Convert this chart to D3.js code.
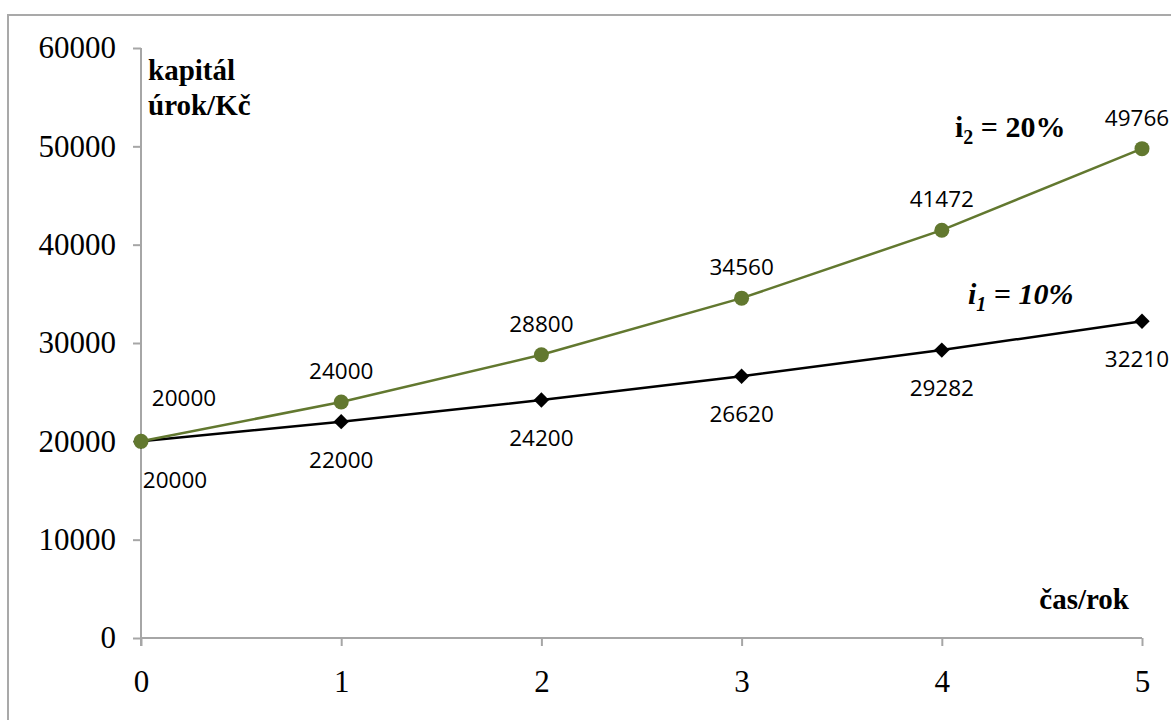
<!DOCTYPE html>
<html>
<head>
<meta charset="utf-8">
<script src="https://cdn.jsdelivr.net/npm/d3@7"></script>
<style>
  html, body { margin: 0; padding: 0; background: #fff; }
  svg { display: block; }
</style>
</head>
<body>
<svg id="chart" width="1171" height="720"></svg>
<script>
// Years and capital growth at two compound interest rates
const years = [0, 1, 2, 3, 4, 5];
const capital10 = [20000, 22000, 24200, 26620, 29282, 32210];
const capital20 = [20000, 24000, 28800, 34560, 41472, 49766];
const yTicks = [0, 10000, 20000, 30000, 40000, 50000, 60000];

const svg = d3.select("#chart");
const serif = "'Liberation Serif', 'Times New Roman', serif";
const sans = "'Open Sans', 'Noto Sans', sans-serif";
const green = "#62782f";
const axisGrey = "#a6a6a6";

// outer chart frame
svg.append("rect")
  .attr("x", 8).attr("y", 15)
  .attr("width", 1200).attr("height", 760)
  .attr("fill", "none")
  .attr("stroke", "#a9a9a9")
  .attr("stroke-width", 2);

const x = d3.scaleLinear().domain([0, 5]).range([141, 1142]);
const y = d3.scaleLinear().domain([0, 60000]).range([638, 48]);

// y axis
const yAxis = svg.append("g")
  .attr("transform", `translate(${x(0)},0)`)
  .call(d3.axisLeft(y).tickValues(yTicks).tickSize(8).tickPadding(17).tickFormat(d3.format("d")));
yAxis.attr("font-family", null).attr("font-size", null);
yAxis.select(".domain").attr("stroke", axisGrey).attr("stroke-width", 2)
  .attr("d", `M0,${y(60000)}V${y(0) + 8}`);
yAxis.selectAll(".tick line").attr("stroke", axisGrey).attr("stroke-width", 2);
yAxis.selectAll(".tick text")
  .style("font-family", serif).style("font-size", "31px").attr("fill", "#000");

// x axis
const xAxis = svg.append("g")
  .attr("transform", `translate(0,${y(0)})`)
  .call(d3.axisBottom(x).tickValues(years).tickSize(8).tickPadding(24).tickFormat(d3.format("d")));
xAxis.attr("font-family", null).attr("font-size", null);
xAxis.select(".domain").attr("stroke", axisGrey).attr("stroke-width", 2)
  .attr("d", `M${x(0)},0H${x(5)}`);
xAxis.selectAll(".tick line").attr("stroke", axisGrey).attr("stroke-width", 2);
xAxis.selectAll(".tick text")
  .style("font-family", serif).style("font-size", "31px").attr("fill", "#000");
svg.selectAll(".domain").attr("fill", "none");

// axis titles
svg.append("text").attr("x", 148).attr("y", 80)
  .style("font-family", serif).style("font-size", "29px").style("font-weight", "bold")
  .text("kapitál");
svg.append("text").attr("x", 148).attr("y", 115)
  .style("font-family", serif).style("font-size", "29px").style("font-weight", "bold")
  .text("úrok/Kč");
svg.append("text").attr("x", 1129).attr("y", 609).attr("text-anchor", "end")
  .style("font-family", serif).style("font-size", "29px").style("font-weight", "bold")
  .text("čas/rok");

const line = d3.line().x((d, i) => x(years[i])).y(d => y(d));

// 10 % series
svg.append("path").datum(capital10)
  .attr("d", line).attr("fill", "none")
  .attr("stroke", "#000").attr("stroke-width", 2.5);
svg.selectAll(".m10").data(capital10).enter().append("path")
  .attr("class", "m10")
  .attr("transform", (d, i) => `translate(${x(years[i])},${y(d)})`)
  .attr("d", d3.symbol().type(d3.symbolDiamond2).size(150))
  .attr("fill", "#000");

// 20 % series
svg.append("path").datum(capital20)
  .attr("d", line).attr("fill", "none")
  .attr("stroke", green).attr("stroke-width", 2.5);
svg.selectAll(".m20").data(capital20).enter().append("circle")
  .attr("class", "m20")
  .attr("cx", (d, i) => x(years[i])).attr("cy", d => y(d))
  .attr("r", 7.5).attr("fill", green);

// value labels: 10 % below the markers, 20 % above
svg.selectAll(".l10").data(capital10).enter().append("text")
  .attr("class", "l10")
  .attr("x", (d, i) => x(years[i]) + (i === 0 ? 34 : i === years.length - 1 ? -5 : 0))
  .attr("y", (d, i) => y(d) + (i === 0 ? 39 : 38))
  .attr("dy", "0.35em").attr("text-anchor", "middle")
  .style("font-family", sans).style("font-size", "22.5px").attr("fill", "#000")
  .text(d => d);
svg.selectAll(".l20").data(capital20).enter().append("text")
  .attr("class", "l20")
  .attr("x", (d, i) => x(years[i]) + (i === 0 ? 43 : i === years.length - 1 ? -5 : 0))
  .attr("y", (d, i) => y(d) - (i === 0 ? 43 : 31))
  .attr("dy", "0.35em").attr("text-anchor", "middle")
  .style("font-family", sans).style("font-size", "22.5px").attr("fill", "#000")
  .text(d => d);

// series captions
const cap2 = svg.append("text").attr("x", 955).attr("y", 137)
  .style("font-family", serif).style("font-size", "30px").style("font-weight", "bold");
cap2.append("tspan").text("i");
cap2.append("tspan").style("font-size", "20px").attr("dy", 7).text("2");
cap2.append("tspan").attr("dy", -7).text(" = 20%");

const cap1 = svg.append("text").attr("x", 968).attr("y", 304)
  .style("font-family", serif).style("font-size", "30px").style("font-weight", "bold")
  .style("font-style", "italic");
cap1.append("tspan").text("i");
cap1.append("tspan").style("font-size", "20px").attr("dy", 7).text("1");
cap1.append("tspan").attr("dy", -7).text(" = 10%");
</script>
</body>
</html>
